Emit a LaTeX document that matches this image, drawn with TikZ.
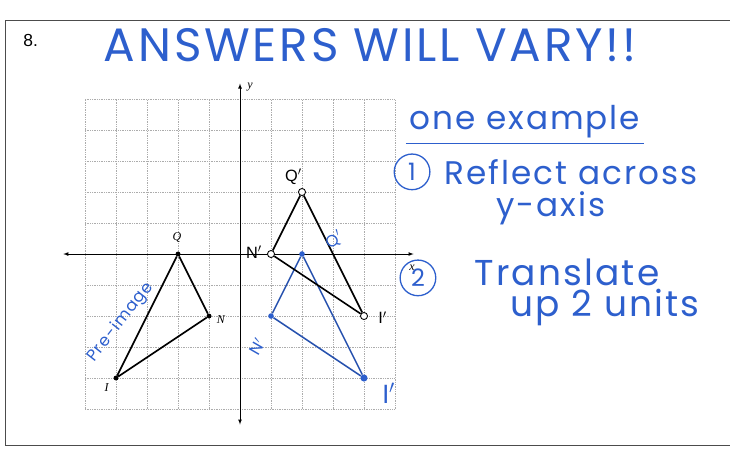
\documentclass[tikz,border=0pt]{standalone}
\usepackage{fontspec}
\setmainfont{Liberation Serif}
\setsansfont{Liberation Sans}
\newfontfamily\handfont{Poppins}[LetterSpace=6]
\definecolor{handblue}{RGB}{45,95,205}

\begin{document}
\begin{tikzpicture}[>=latex,
    dot/.style={circle,fill=black,inner sep=1.6pt},
    opendot/.style={circle,draw,thick,fill=white,inner sep=2.3pt},
    bluedot/.style={circle,fill=handblue,inner sep=1.8pt},
    hand/.style={text=handblue,font=\handfont\fontsize{30}{32}\selectfont},
    small hand/.style={text=handblue,font=\handfont\fontsize{15}{16}\selectfont},
    stepnum/.style={hand,circle,draw=handblue,line width=1.2pt,minimum size=1.15cm,inner sep=0pt,font=\handfont\fontsize{22}{24}\selectfont},
    printlabel/.style={font=\itshape\fontsize{11}{12}\selectfont}]
    \useasboundingbox (-7.742,-6.290) rectangle (15.806,8.194);

    % frame of the exercise
    \draw[line width=0.8pt, gray!60!black] (15.9,7.55) -- (-7.58,7.55) -- (-7.58,-6.16) -- (15.9,-6.16);
    \node[font=\sffamily\fontsize{16}{18}\selectfont] (num) at (-6.75,6.9) {8.};

    % grid and axes
    \draw[gray!65, densely dotted, line width=0.6pt] (-5,-5) grid (5,5);
    \coordinate (xl) at (-5.7,0);
    \coordinate (xr) at (5.6,0);
    \coordinate (yb) at (0,-5.5);
    \coordinate (yt) at (0,5.5);
    \draw[<->, line width=0.6pt] (xl) -- (xr);
    \draw[<->, line width=0.6pt] (yb) -- (yt);
    \node[printlabel] (xlab) at (5.55,-0.45) {x};
    \node[printlabel] (ylab) at (0.32,5.4) {y};

    % vertices
    \node[dot] (Q) at (-2,0) {};
    \node[dot] (N) at (-1,-2) {};
    \node[dot] (I) at (-4,-4) {};
    \node[bluedot] (Qb) at (2,0) {};
    \node[bluedot] (Nb) at (1,-2) {};
    \node[bluedot, inner sep=2.3pt] (Ib) at (4,-4) {};
    \node[opendot] (Qp) at (2,2) {};
    \node[opendot] (Np) at (1,0) {};
    \node[opendot] (Ip) at (4,-2) {};

    \draw[handblue!85!black, line width=1.4pt] (Qb)--(Nb) (Nb)--(Ib) (Ib)--(Qb);
    \draw[line width=1.5pt] (Q)--(N) (N)--(I) (I)--(Q);
    \draw[line width=1.5pt] (Qp)--(Np) (Np)--(Ip) (Ip)--(Qp);

    % printed labels
    \node[printlabel] (lQ) at (-2.03,0.52) {Q};
    \node[printlabel] (lN) at (-0.62,-2.1) {N};
    \node[printlabel] (lI) at (-4.3,-4.3) {I};
    \node[font=\sffamily\fontsize{15}{16}\selectfont] (lQp) at (1.72,2.5) {Q$'$};
    \node[font=\sffamily\fontsize{15}{16}\selectfont] (lNp) at (0.45,0.05) {N$'$};
    \node[font=\sffamily\fontsize{15}{16}\selectfont] (lIp) at (4.6,-2.05) {I$'$};

    % handwritten answer
    \node[hand, font=\handfont\fontsize{43}{45}\selectfont] (title) at (4.2,6.75) {ANSWERS WILL VARY!!};
    \node[small hand, rotate=52, inner sep=0pt] (pre) at (-3.85,-2.2) {Pre-image};
    \node[small hand, rotate=35, inner sep=0pt] (bQ) at (3.05,0.45) {Q$'$};
    \node[small hand, rotate=60, inner sep=0pt] (bN) at (0.55,-3.0) {N$'$};
    \node[hand, font=\handfont\fontsize{24}{26}\selectfont] (bI) at (4.8,-4.5) {I$'$};

    \node[hand] (ex) at (9.19,4.26) {one example};
    \draw[handblue, line width=1.2pt] (ex.south west)++(0,-0.05) coordinate (ul) -- (ul -| ex.south east);
    \node[stepnum] (one) at (5.55,2.65) {1};
    \node[hand] (step1) at (10.68,2.65) {Reflect across};
    \node[hand] (step1b) at (10.03,1.48) {y-axis};
    \node[stepnum] (two) at (5.74,-0.77) {2};
    \node[hand, font=\handfont\fontsize{33}{35}\selectfont] (step2) at (10.55,-0.58) {Translate};
    \node[hand, font=\handfont\fontsize{33}{35}\selectfont] (step2b) at (11.77,-1.74) {up 2 units};
\end{tikzpicture}
\end{document}
